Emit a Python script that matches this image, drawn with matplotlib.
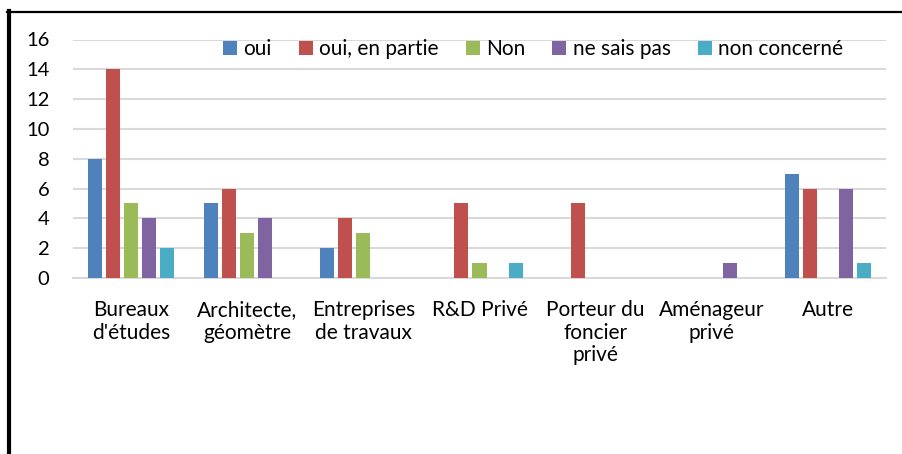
import numpy as np
import matplotlib
matplotlib.use("Agg")
import matplotlib.pyplot as plt
from matplotlib.lines import Line2D

plt.rcParams['font.family'] = ['Lato', 'DejaVu Sans']

categories = ["Bureaux\nd'études", "Architecte,\ngéomètre", "Entreprises\nde travaux",
              "R&D Privé", "Porteur du\nfoncier\nprivé", "Aménageur\nprivé", "Autre"]
series_names = ["oui", "oui, en partie", "Non", "ne sais pas", "non concerné"]
oui = [8, 5, 2, 0, 0, 0, 7]
oui_partie = [14, 6, 4, 5, 5, 0, 6]
non = [5, 3, 3, 1, 0, 0, 0]
ne_sais_pas = [4, 4, 0, 0, 0, 1, 6]
non_concerne = [2, 0, 0, 1, 0, 0, 1]
colors = ["#4F81BD", "#C0504D", "#9BBB59", "#8064A2", "#4BACC6"]

W, H = 903, 454
fig = plt.figure(figsize=(W / 100, H / 100), dpi=100)
ax = fig.add_axes([73 / W, 1 - 278 / H, (886 - 73) / W, (278 - 39.5) / H])

x = np.arange(len(categories))
pitch = 18 / 116
bw = 14 / 116
all_series = [oui, oui_partie, non, ne_sais_pas, non_concerne]
handles = []
for i, (vals, name, c) in enumerate(zip(all_series, series_names, colors)):
    h = ax.bar(x + (i - 2) * pitch, vals, width=bw, color=c, label=name, zorder=3)
    handles.append(h)

ax.set_xlim(-0.5, len(categories) - 0.5)
ax.set_ylim(0, 16)
ax.set_yticks(range(0, 17, 2))
ax.yaxis.grid(True, color="#D9D9D9", linewidth=1.5, zorder=0)
ax.set_axisbelow(True)
for s in ["top", "right", "left"]:
    ax.spines[s].set_visible(False)
ax.spines["bottom"].set_color("#D9D9D9")
ax.spines["bottom"].set_linewidth(1.5)
ax.tick_params(axis="y", length=0, pad=17, labelsize=14.5)
ax.tick_params(axis="x", length=0, pad=16)
ax.set_xticks(x)
ax.set_xticklabels(categories, fontsize=15, linespacing=1.15)

fig.legend(handles=handles, labels=series_names, ncol=5, loc="center",
           bbox_to_anchor=(533 / W, 1 - 49 / H), frameon=False, fontsize=15,
           handlelength=0.68, handleheight=0.68, handletextpad=0.3,
           columnspacing=1.3, borderpad=0)

# black frame on left and top
fig.add_artist(Line2D([9 / W, 9 / W], [0, 1 - 11 / H], color="black", linewidth=3,
                      transform=fig.transFigure))
fig.add_artist(Line2D([7 / W, 1], [1 - 11.5 / H, 1 - 11.5 / H], color="black",
                      linewidth=1.6, transform=fig.transFigure))

fig.savefig("out.png", dpi=100)
